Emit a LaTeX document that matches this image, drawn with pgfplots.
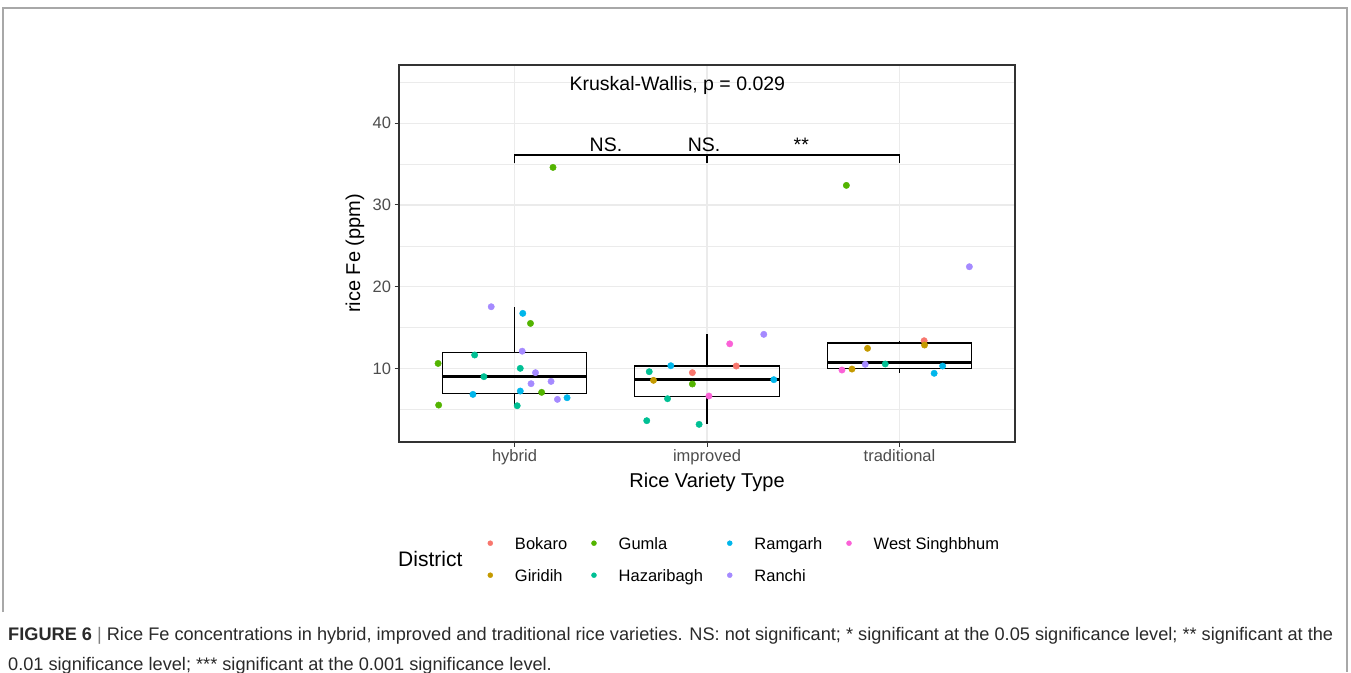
\documentclass[border=0pt]{standalone}
\usepackage{fontspec}
\setmainfont{Liberation Sans}
\usepackage{graphicx}
\usepackage{pgfplots}
\pgfplotsset{compat=1.18}
\definecolor{cBok}{HTML}{F8766D}
\definecolor{cGir}{HTML}{C49A00}
\definecolor{cGum}{HTML}{53B400}
\definecolor{cHaz}{HTML}{00C094}
\definecolor{cRam}{HTML}{00B6EB}
\definecolor{cRan}{HTML}{A58AFF}
\definecolor{cWS}{HTML}{FB61D7}
\definecolor{gridc}{HTML}{EBEBEB}
\definecolor{borderc}{HTML}{333333}
\definecolor{tickl}{HTML}{4D4D4D}
\definecolor{capc}{HTML}{2A2A2A}
\definecolor{framec}{HTML}{A8A8A8}
\begin{document}
\begin{tikzpicture}
\useasboundingbox (0,0) rectangle (1351pt,672pt);
\fill[white] (0,0) rectangle (1351pt,672pt);
\begin{axis}[
  at={(399pt,230pt)}, anchor=south west,
  scale only axis, width=616pt, height=377pt,
  xmin=0.4, xmax=3.6, ymin=0.98, ymax=47.14,
  xtick={1,2,3}, xticklabels={hybrid,improved,traditional},
  ytick={10,20,30,40}, minor ytick={5,15,25,35,45},
  grid=both,
  major grid style={draw=gridc, line width=1.1pt},
  minor grid style={draw=gridc, line width=0.6pt},
  axis line style={draw=borderc, line width=1.3pt},
  tick pos=left, tick align=outside,
  major tick length=4.5pt, minor tick length=0pt,
  every tick/.style={draw=borderc, line width=1pt},
  ticklabel style={font=\fontsize{16.5}{19}\selectfont, text=tickl},
  /pgf/number format/assume math mode=true,
  xlabel={Rice Variety Type}, ylabel={rice Fe (ppm)},
  label style={font=\fontsize{20}{23}\selectfont},
  xlabel style={at={(axis description cs:0.5,-0.106)}, anchor=center},
  ylabel style={at={(axis description cs:-0.0714,0.5)}, anchor=center},
  legend columns=4,
  legend cell align=left,
  legend image code/.code={\fill[#1] (0pt,0pt) circle (2.5pt);},
  legend style={at={(axis description cs:0.1435,-0.252)}, anchor=north west,
    draw=none, fill=none, inner sep=0pt,
    font=\fontsize{16.5}{18}\selectfont,
    column sep=22pt,
    /tikz/every even column/.append style={column sep=24pt},
    row sep=20pt,
    nodes={inner sep=0pt, text height=12pt, text depth=0pt}},
]
% boxes: hybrid (x=1)
\addplot[black, line width=1.2pt, forget plot] coordinates {(0.625,6.94) (1.375,6.94) (1.375,11.9) (0.625,11.9) (0.625,6.94)};
\addplot[black, line width=2.6pt, forget plot] coordinates {(0.625,8.98) (1.375,8.98)};
\addplot[black, line width=1.2pt, forget plot] coordinates {(1,11.9) (1,17.54)};
\addplot[black, line width=1.2pt, forget plot] coordinates {(1,6.94) (1,5.42)};
% improved (x=2)
\addplot[black, line width=1.2pt, forget plot] coordinates {(1.625,6.53) (2.375,6.53) (2.375,10.28) (1.625,10.28) (1.625,6.53)};
\addplot[black, line width=2.6pt, forget plot] coordinates {(1.625,8.65) (2.375,8.65)};
\addplot[black, line width=1.2pt, forget plot] coordinates {(2,10.28) (2,14.16)};
\addplot[black, line width=1.2pt, forget plot] coordinates {(2,6.53) (2,3.2)};
% traditional (x=3)
\addplot[black, line width=1.2pt, forget plot] coordinates {(2.625,10.0) (3.375,10.0) (3.375,13.1) (2.625,13.1) (2.625,10.0)};
\addplot[black, line width=2.6pt, forget plot] coordinates {(2.625,10.7) (3.375,10.7)};
\addplot[black, line width=1.2pt, forget plot] coordinates {(3,13.1) (3,13.38)};
\addplot[black, line width=1.2pt, forget plot] coordinates {(3,10.0) (3,9.39)};
% bracket
\addplot[black, line width=1.4pt, forget plot] coordinates {(1,35.1) (1,36.1) (3,36.1) (3,35.1)};
\addplot[black, line width=1.4pt, forget plot] coordinates {(2,36.1) (2,35.1)};
% points
\addplot[only marks, mark=*, mark size=3.2pt, color=cBok, mark options={draw=cBok, fill=cBok}]
  coordinates {(2.152,10.28) (1.924,9.47) (3.128,13.38)};
\addlegendentry{Bokaro}
\addplot[only marks, mark=*, mark size=3.2pt, color=cGum, mark options={draw=cGum, fill=cGum}]
  coordinates {(1.2,34.6) (1.083,15.5) (0.603,10.6) (1.141,7.06) (0.606,5.5) (1.924,8.08) (2.724,32.4)};
\addlegendentry{Gumla}
\addplot[only marks, mark=*, mark size=3.2pt, color=cRam, mark options={draw=cRam, fill=cRam}]
  coordinates {(1.043,16.73) (1.03,7.22) (0.784,6.81) (1.273,6.4) (1.812,10.32) (2.347,8.61) (3.224,10.28) (3.18,9.39)};
\addlegendentry{Ramgarh}
\addplot[only marks, mark=*, mark size=3.2pt, color=cWS, mark options={draw=cWS, fill=cWS}]
  coordinates {(2.118,13.0) (2.01,6.61) (2.701,9.79)};
\addlegendentry{West Singhbhum}
\addplot[only marks, mark=*, mark size=3.2pt, color=cGir, mark options={draw=cGir, fill=cGir}]
  coordinates {(1.722,8.53) (3.13,12.85) (2.834,12.45) (2.753,9.91)};
\addlegendentry{Giridih}
\addplot[only marks, mark=*, mark size=3.2pt, color=cHaz, mark options={draw=cHaz, fill=cHaz}]
  coordinates {(0.793,11.63) (1.03,10.0) (0.841,8.98) (1.014,5.42) (1.7,9.59) (1.795,6.28) (1.687,3.59) (1.959,3.14) (2.926,10.53)};
\addlegendentry{Hazaribagh}
\addplot[only marks, mark=*, mark size=3.2pt, color=cRan, mark options={draw=cRan, fill=cRan}]
  coordinates {(0.879,17.54) (1.04,12.1) (1.109,9.47) (1.19,8.4) (1.086,8.12) (1.223,6.2) (2.295,14.16) (2.822,10.49) (3.363,22.44)};
\addlegendentry{Ranchi}
% annotations
\node[anchor=base west, font=\fontsize{19.5}{22}\selectfont] at (axis cs:1.268,43.96) {Kruskal-Wallis, p = 0.029};
\node[anchor=base, font=\fontsize{19.5}{22}\selectfont] at (axis cs:1.475,36.49) {NS.};
\node[anchor=base, font=\fontsize{19.5}{22}\selectfont] at (axis cs:1.985,36.49) {NS.};
\node[anchor=base, font=\fontsize{19.5}{22}\selectfont] at (axis cs:2.49,36.49) {**};
\end{axis}
\node[anchor=west, inner sep=0pt, font=\fontsize{21}{24}\selectfont] at (398pt,113pt) {District};
\draw[framec, line width=1.3pt] (3pt,60pt) -- (3pt,664pt) -- (1347pt,664pt) -- (1347pt,0pt);
\node[anchor=base west, inner sep=0pt, text=capc] at (8pt,32pt) {\resizebox{1325pt}{!}{\fontsize{16}{27}\selectfont\begin{tabular}[t]{@{}l@{}}\textbf{FIGURE 6} {\color{gray}|} Rice Fe concentrations in hybrid, improved and traditional rice varieties. NS: not significant; * significant at the 0.05 significance level; ** significant at the\\0.01 significance level; *** significant at the 0.001 significance level.\end{tabular}}};
\end{tikzpicture}
\end{document}
